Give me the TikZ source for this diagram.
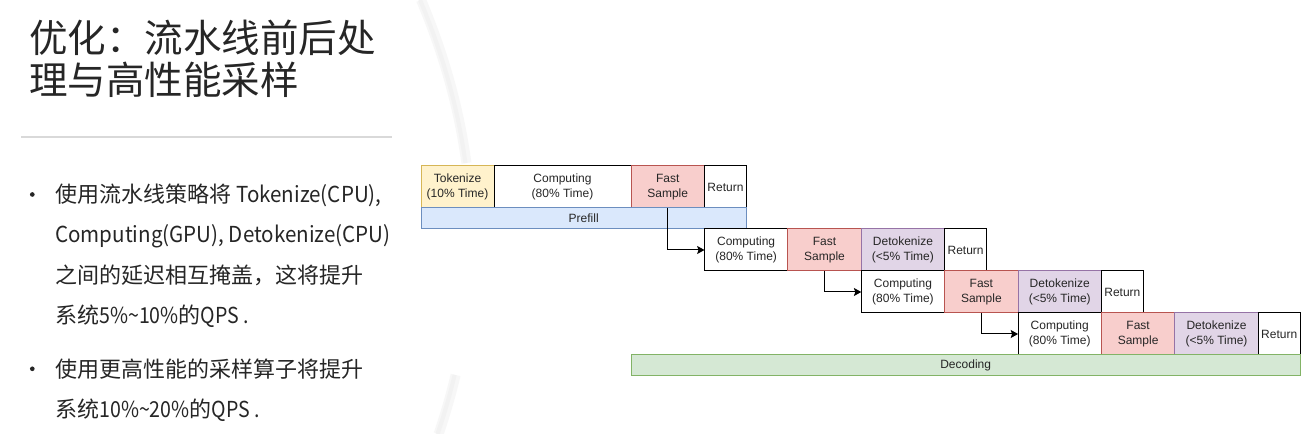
\documentclass[tikz,border=0pt]{standalone}
\usepackage{fontspec}
\setmainfont{Liberation Sans}
\newfontfamily\cjk{Noto Sans CJK SC}
\newfontfamily\cjkn[FakeStretch=0.935]{Noto Sans CJK SC}
\newfontfamily\cjknn[FakeStretch=0.89]{Noto Sans CJK SC}
\usetikzlibrary{arrows.meta}
\definecolor{tokF}{HTML}{FFF2CC}\definecolor{tokD}{HTML}{D6B656}
\definecolor{fasF}{HTML}{F8CECC}\definecolor{fasD}{HTML}{B85450}
\definecolor{detF}{HTML}{E1D5E7}\definecolor{detD}{HTML}{9673A6}
\definecolor{preF}{HTML}{DAE8FC}\definecolor{preD}{HTML}{6C8EBF}
\definecolor{decF}{HTML}{D5E8D4}\definecolor{decD}{HTML}{82B366}
\definecolor{ruleC}{HTML}{D9D9D9}
\definecolor{titleC}{HTML}{262626}
\definecolor{bodyC}{HTML}{262626}
\begin{document}
\begin{tikzpicture}[x=0.75pt,y=-0.75pt,
  blk/.style={draw=black, line width=0.75pt, inner sep=0pt, outer sep=0pt,
    minimum height=31.5pt, font=\fontsize{9}{11}\selectfont, align=center,
    text=black!85, anchor=north west, fill=white},
  tokbox/.style={blk, fill=tokF, draw=tokD, minimum width=54.75pt},
  compbox/.style={blk, minimum width=62.5pt},
  fastbox/.style={blk, fill=fasF, draw=fasD, minimum width=55.1pt},
  detbox/.style={blk, fill=detF, draw=detD, minimum width=62.5pt},
  retbox/.style={blk, minimum width=31.5pt},
  barbox/.style={blk, minimum height=15.75pt},
  arr/.style={draw=black, line width=0.75pt, -{Stealth[length=5.5pt,width=6pt,inset=1pt]}},
  titletext/.style={anchor=base west, inner sep=0pt, text=titleC, font=\cjk\fontsize{28.9}{31.5}\selectfont},
  bodytext/.style={anchor=base west, inner sep=0pt, text=bodyC, font=\cjk\fontsize{16.5}{20}\selectfont},
  bulletdot/.style={circle, fill=bodyC, inner sep=0pt, minimum size=3.5pt}
]
\useasboundingbox (0,0) rectangle (1307,434);
\fill[white] (0,0) rectangle (1307,434);

% background arc band
\foreach \a/\b in {0/163,375/434}{
  \draw[black!3, line width=7.5pt] plot[domain=\a:\b, samples=30, smooth] ({471.6-0.0877*((\x-240)/10)^2},\x);
  \draw[black!5, line width=3pt] plot[domain=\a:\b, samples=30, smooth] ({470.6-0.0877*((\x-240)/10)^2},\x);
}

% title
\node[titletext] (title1) at (29,53) {优化：流水线前后处};
\node[titletext] (title2) at (29,95) {理与高性能采样};
\draw[ruleC, line width=1.5pt] (21,136.7) -- (392,136.7);

% bullets
\node[bulletdot] (dot1) at (32.3,194.5) {};
\node[bodytext] (l1) at (55,203) {使用流水线策略将 {\cjkn Tokenize(CPU),}};
\node[bodytext] (l2) at (55,243) {{\cjkn Computing(GPU), Detokenize(CPU)}};
\node[bodytext] (l3) at (55,283.4) {之间的延迟相互掩盖，这将提升};
\node[bodytext] (l4) at (55,323.4) {系统{\cjknn 5\%\textasciitilde10\%}的{\cjknn QPS .}};
\node[bulletdot] (dot2) at (32.3,368.8) {};
\node[bodytext] (l5) at (55,377.7) {使用更高性能的采样算子将提升};
\node[bodytext] (l6) at (55,417.7) {系统{\cjknn 10\%\textasciitilde20\%}的{\cjknn QPS .}};

% row 1 (prefill)
\node[tokbox] (t1) at (421,166) {Tokenize\\(10\% Time)};
\node[blk, minimum width=102.75pt] (c1) at (t1.north east) {Computing\\(80\% Time)};
\node[fastbox] (f1) at (c1.north east) {Fast\\Sample};
\node[retbox] (r1) at (f1.north east) {Return};
\node[barbox, fill=preF, draw=preD, minimum width=244.1pt] (pre) at (t1.south west) {Prefill};

% row 2
\node[compbox] (c2) at (r1.south west |- pre.south) {Computing\\(80\% Time)};
\node[fastbox] (f2) at (c2.north east) {Fast\\Sample};
\node[detbox] (d2) at (f2.north east) {Detokenize\\(<5\% Time)};
\node[retbox] (r2) at (d2.north east) {Return};

% row 3
\node[compbox] (c3) at (d2.south west) {Computing\\(80\% Time)};
\node[fastbox] (f3) at (c3.north east) {Fast\\Sample};
\node[detbox] (d3) at (f3.north east) {Detokenize\\(<5\% Time)};
\node[retbox] (r3) at (d3.north east) {Return};

% row 4
\node[compbox] (c4) at (d3.south west) {Computing\\(80\% Time)};
\node[fastbox] (f4) at (c4.north east) {Fast\\Sample};
\node[detbox] (d4) at (f4.north east) {Detokenize\\(<5\% Time)};
\node[retbox] (r4) at (d4.north east) {Return};

% decoding bar
\path (f1.west |- c4.south) coordinate (decNW);
\node[barbox, fill=decF, draw=decD, minimum width=502pt] (dec) at (decNW) {Decoding};

% arrows
\draw[arr] (f1.south) |- (c2.west);
\draw[arr] (f2.south) |- (c3.west);
\draw[arr] (f3.south) |- (c4.west);
\end{tikzpicture}
\end{document}
